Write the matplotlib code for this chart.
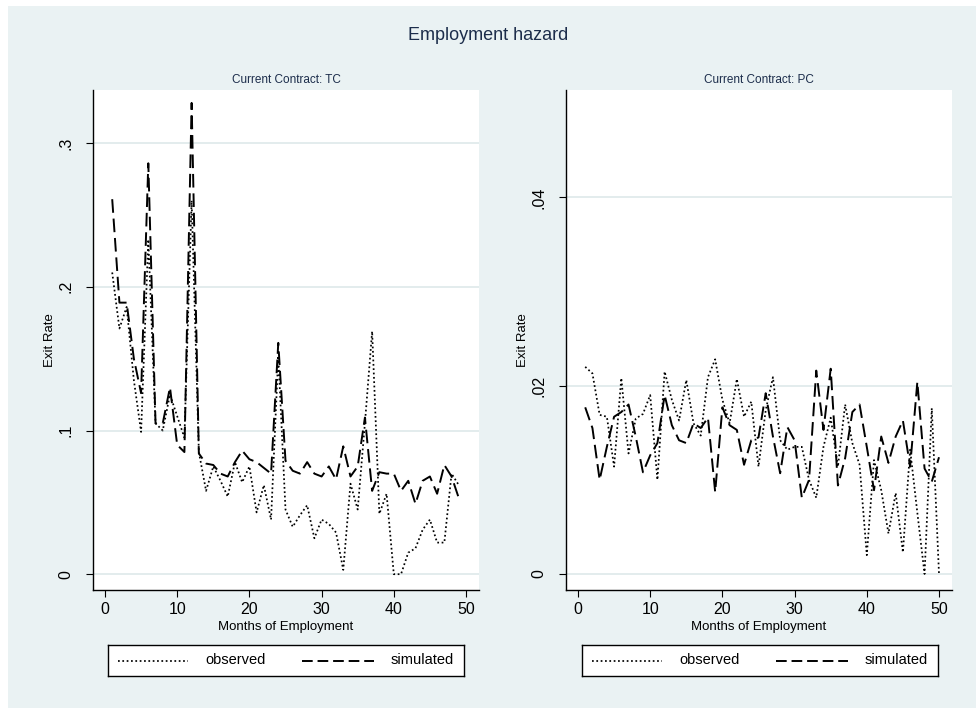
import numpy as np
import matplotlib
matplotlib.use("Agg")
import matplotlib.pyplot as plt
from matplotlib.patches import Rectangle

plt.rcParams["font.family"] = ["Liberation Sans Narrow", "Liberation Sans", "DejaVu Sans"]

# months of employment, temporary (TC) and permanent (PC) contracts
months_tc = np.arange(1, 50)
months_pc = np.arange(1, 51)

observed_tc = [0.210, 0.171, 0.186, 0.135, 0.099, 0.233, 0.105, 0.100, 0.125, 0.110,
               0.095, 0.260, 0.085, 0.058, 0.075, 0.065, 0.054, 0.078, 0.064, 0.075,
               0.043, 0.062, 0.038, 0.152, 0.045, 0.033, 0.041, 0.048, 0.025, 0.038,
               0.035, 0.029, 0.003, 0.063, 0.045, 0.105, 0.169, 0.042, 0.056, 0.000,
               0.000, 0.015, 0.018, 0.031, 0.038, 0.022, 0.022, 0.070, 0.062]
simulated_tc = [0.261, 0.189, 0.189, 0.150, 0.126, 0.286, 0.105, 0.105, 0.130, 0.090,
                0.085, 0.328, 0.084, 0.077, 0.076, 0.070, 0.068, 0.078, 0.086, 0.080,
                0.078, 0.074, 0.070, 0.161, 0.079, 0.072, 0.070, 0.078, 0.070, 0.068,
                0.075, 0.066, 0.089, 0.068, 0.075, 0.109, 0.058, 0.071, 0.070, 0.070,
                0.058, 0.065, 0.049, 0.065, 0.068, 0.056, 0.076, 0.068, 0.053]

observed_pc = [0.0220, 0.0213, 0.0169, 0.0167, 0.0114, 0.0208, 0.0128, 0.0165, 0.0170, 0.0190,
               0.0100, 0.0215, 0.0185, 0.0163, 0.0206, 0.0160, 0.0147, 0.0209, 0.0228, 0.0185,
               0.0160, 0.0207, 0.0167, 0.0183, 0.0114, 0.0174, 0.0209, 0.0142, 0.0132, 0.0135,
               0.0135, 0.0100, 0.0081, 0.0135, 0.0166, 0.0114, 0.0180, 0.0139, 0.0116, 0.0020,
               0.0121, 0.0089, 0.0043, 0.0086, 0.0023, 0.0132, 0.0065, 0.0000, 0.0176, 0.0000]
simulated_pc = [0.0177, 0.0155, 0.0100, 0.0135, 0.0167, 0.0172, 0.0180, 0.0146, 0.0108, 0.0126,
                0.0139, 0.0190, 0.0158, 0.0142, 0.0139, 0.0160, 0.0155, 0.0166, 0.0087, 0.0177,
                0.0158, 0.0153, 0.0116, 0.0142, 0.0145, 0.0192, 0.0146, 0.0107, 0.0156, 0.0142,
                0.0081, 0.0100, 0.0216, 0.0153, 0.0218, 0.0094, 0.0123, 0.0172, 0.0180, 0.0135,
                0.0089, 0.0146, 0.0118, 0.0146, 0.0163, 0.0114, 0.0204, 0.0112, 0.0098, 0.0124]

panels = [
    dict(title="Current Contract: TC", x=months_tc, obs=observed_tc, sim=simulated_tc,
         yticks=[0, 0.1, 0.2, 0.3], ylabels=["0", ".1", ".2", ".3"],
         ylim=(-0.011, 0.337), xlim=(-1.66, 51.8), left=93, leg_left=108),
    dict(title="Current Contract: PC", x=months_pc, obs=observed_pc, sim=simulated_pc,
         yticks=[0, 0.02, 0.04], ylabels=["0", ".02", ".04"],
         ylim=(-0.0017, 0.0514), xlim=(-1.66, 51.8), left=566, leg_left=582),
]

W, H = 976, 713
bg = "#eaf2f3"
navy = "#1c2d4b"
fig = plt.figure(figsize=(W / 100, H / 100), dpi=100, facecolor="white")
fig.patches.append(Rectangle((8 / W, 5 / H), (W - 8) / W, (708 - 6) / H,
                             transform=fig.transFigure, facecolor=bg, edgecolor="none", zorder=-10))

fig.text(0.5, 1 - 35 / H, "Employment hazard", ha="center", va="center", fontsize=13, color=navy)

dotted = (0, (1, 1.5))
dashed = (0, (7, 3))
obs_style = dict(color="black", lw=1.25, linestyle=dotted)
sim_style = dict(color="black", lw=1.4, linestyle=dashed)

for p in panels:
    ax = fig.add_axes([p["left"] / W, 1 - 590 / H, 386 / W, 500 / H])
    ax.set_facecolor("white")
    ax.plot(p["x"], p["obs"], **obs_style)
    ax.plot(p["x"], p["sim"], **sim_style)
    ax.set_xlim(*p["xlim"])
    ax.set_ylim(*p["ylim"])
    ax.set_xticks([0, 10, 20, 30, 40, 50])
    ax.set_yticks(p["yticks"])
    ax.set_yticklabels(p["ylabels"], rotation=90, va="center")
    ax.tick_params(labelsize=11.5, length=5, width=0.8, color="black")
    ax.tick_params(axis="y", pad=9)
    ax.grid(axis="y", color="#e0eaec", lw=1.3)
    ax.set_axisbelow(True)
    for s in ["top", "right"]:
        ax.spines[s].set_visible(False)
    for s in ["left", "bottom"]:
        ax.spines[s].set_linewidth(1.0)
    ax.set_xlabel("Months of Employment", fontsize=9.5, labelpad=3)
    ax.set_ylabel("Exit Rate", fontsize=9.5, labelpad=2)
    ax.set_title(p["title"], fontsize=8.5, color=navy, pad=5)

    # legend box drawn below each panel
    lx = p["leg_left"]
    lw_box = 356
    lg = fig.add_axes([lx / W, 1 - 676 / H, lw_box / W, 31 / H])
    lg.set_facecolor("white")
    lg.set_xlim(0, lw_box)
    lg.set_ylim(0, 1)
    lg.set_xticks([])
    lg.set_yticks([])
    for s in lg.spines.values():
        s.set_linewidth(1.0)
        s.set_color("black")
    lg.plot([10, 80], [0.5, 0.5], **obs_style)
    lg.text(97, 0.5, "observed", ha="left", va="center", fontsize=10.5)
    lg.plot([194, 266], [0.5, 0.5], color="black", lw=1.4, linestyle=(0, (5.5, 2.5)))
    lg.text(283, 0.5, "simulated", ha="left", va="center", fontsize=10.5)

fig.savefig("out.png", dpi=100, facecolor=fig.get_facecolor())
